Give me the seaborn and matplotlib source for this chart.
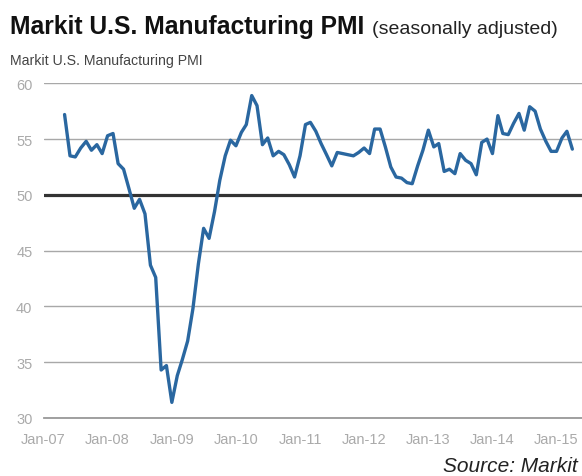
import matplotlib
matplotlib.use("Agg")
import matplotlib.pyplot as plt
import matplotlib.dates as mdates
import pandas as pd
import seaborn as sns

# Markit U.S. Manufacturing PMI, monthly, May 2007 - Apr 2015
pmi_2007 = [57.2, 53.5, 53.4, 54.2, 54.8, 54.0, 54.5, 53.7]
pmi_2008 = [55.3, 55.5, 52.8, 52.3, 50.6, 48.8, 49.6, 48.3, 43.7, 42.6, 34.3, 34.7]
pmi_2009 = [31.4, 33.8, 35.2, 36.9, 39.8, 43.8, 47.0, 46.1, 48.5, 51.3, 53.5, 54.9]
pmi_2010 = [54.4, 55.6, 56.3, 58.9, 58.0, 54.5, 55.1, 53.5, 53.9, 53.6, 52.7, 51.6]
pmi_2011 = [53.5, 56.3, 56.5, 55.7, 54.6, 53.6, 52.6, 53.8, 53.7, 53.6, 53.5, 53.8]
pmi_2012 = [54.2, 53.7, 55.9, 55.9, 54.3, 52.5, 51.6, 51.5, 51.1, 51.0, 52.6, 54.0]
pmi_2013 = [55.8, 54.3, 54.6, 52.1, 52.3, 51.9, 53.7, 53.1, 52.8, 51.8, 54.7, 55.0]
pmi_2014 = [53.7, 57.1, 55.5, 55.4, 56.4, 57.3, 55.8, 57.9, 57.5, 55.9, 54.8, 53.9]
pmi_2015 = [53.9, 55.1, 55.7, 54.1]

values = pmi_2007 + pmi_2008 + pmi_2009 + pmi_2010 + pmi_2011 + pmi_2012 + pmi_2013 + pmi_2014 + pmi_2015
dates = pd.date_range("2007-05-01", periods=len(values), freq="MS")
df = pd.DataFrame({"date": dates, "pmi": values})

sns.set_style("white")
plt.rcParams["font.family"] = ["Liberation Sans", "DejaVu Sans"]

W, H = 582, 477
fig = plt.figure(figsize=(W / 100, H / 100), dpi=100)
ax = fig.add_axes([43.5 / W, (H - 419) / H, (W - 43.5) / W, (419 - 84.3) / H])

ax.set_ylim(30, 60)
ax.set_yticks(range(30, 61, 5))
ax.set_xlim(pd.Timestamp("2007-01-01"), pd.Timestamp("2015-05-26"))
ax.grid(axis="y", color="#a8a8a8", lw=1.0)
ax.set_axisbelow(True)
ax.axhline(50, color="#333333", lw=2.3, zorder=1.5)

sns.lineplot(data=df, x="date", y="pmi", ax=ax, color="#2a67a0", lw=2.4, zorder=3)

ax.xaxis.set_major_locator(mdates.YearLocator())
ax.xaxis.set_major_formatter(mdates.DateFormatter("%b-%y"))
ax.tick_params(axis="x", length=4, width=1, color="#999999", direction="out",
               labelcolor="#aaaaaa", labelsize=10.5, pad=6)
ax.tick_params(axis="y", length=0, labelcolor="#aaaaaa", labelsize=10.5, pad=8)
ax.set_xlabel("")
ax.set_ylabel("")
for s in ["top", "right", "left"]:
    ax.spines[s].set_visible(False)
ax.spines["bottom"].set_color("#999999")
ax.spines["bottom"].set_linewidth(1.3)

fig.text(10 / W, (H - 34) / H, "Markit U.S. Manufacturing PMI", fontsize=17.7,
         fontweight="bold", color="#111111", va="baseline")
fig.text(372 / W, (H - 34) / H, "(seasonally adjusted)", fontsize=14,
         color="#222222", va="baseline")
fig.text(10 / W, (H - 65) / H, "Markit U.S. Manufacturing PMI", fontsize=10.2,
         color="#444444", va="baseline")
fig.text(578 / W, (H - 472) / H, "Source: Markit", fontsize=15, style="italic",
         color="#222222", va="baseline", ha="right")

fig.savefig("out.png", dpi=100, facecolor="white")
